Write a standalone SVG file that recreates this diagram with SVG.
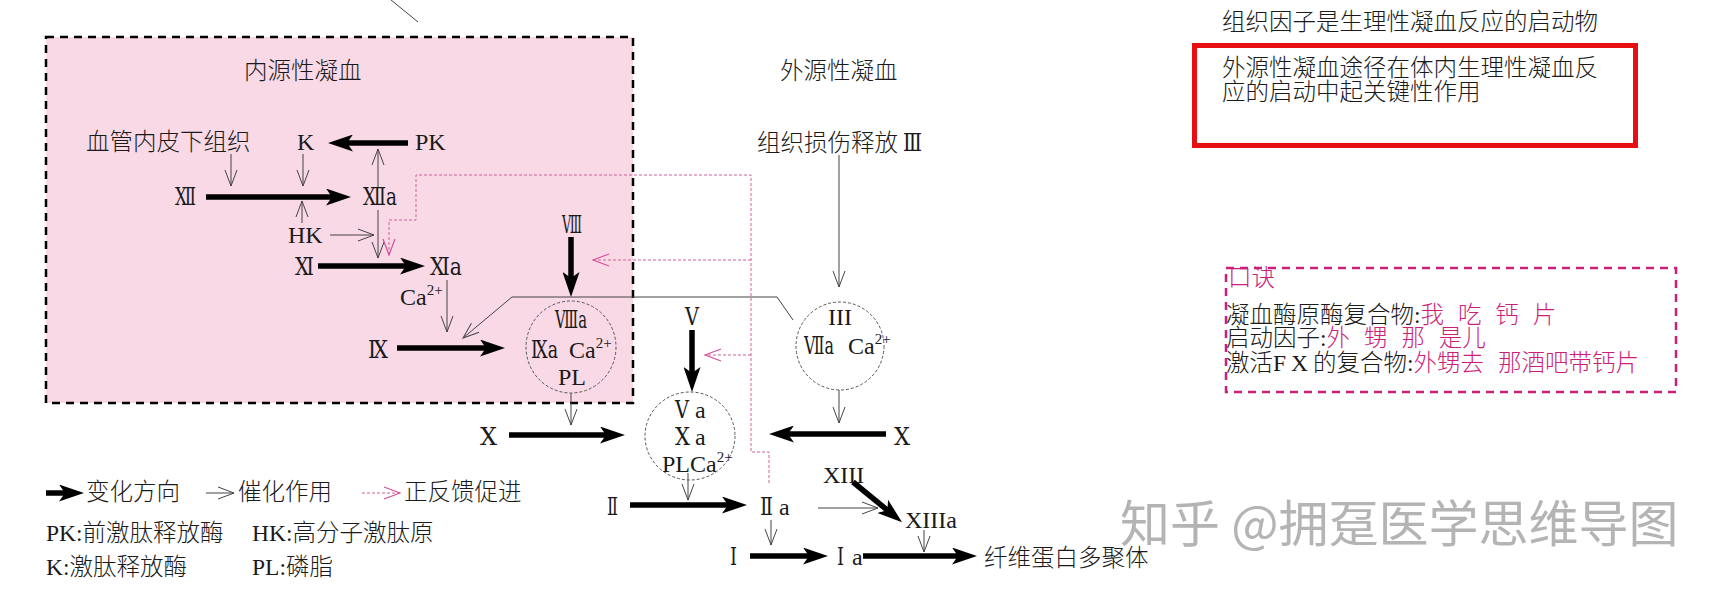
<svg xmlns="http://www.w3.org/2000/svg" width="1734" height="593" viewBox="0 0 1734 593">
<style>
.t{font-family:"Liberation Serif","DejaVu Serif","Noto Sans CJK SC",serif;font-size:24px;fill:#1a1a1a}
.r{font-family:"DejaVu Serif","Liberation Serif",serif;font-size:24px;fill:#1a1a1a}
.c{font-family:"Liberation Serif","Noto Sans CJK SC",sans-serif;font-size:23.5px;fill:#1a1a1a;font-weight:300}
.m{fill:#cc1f7a}
.sup{font-size:15px}
.thick{stroke:#000;stroke-width:5.5;fill:none;marker-end:url(#ah)}
.thin{stroke:#444;stroke-width:1;fill:none;marker-end:url(#av)}
.pink{stroke:#d0609a;stroke-width:1;stroke-dasharray:3 2;fill:none}
.pa{marker-end:url(#ap)}
.cir{fill:none;stroke:#555;stroke-width:1;stroke-dasharray:3 2}
</style>
<defs>
<marker id="ah" markerUnits="userSpaceOnUse" viewBox="0 0 25 17" refX="12" refY="8.5" markerWidth="25" markerHeight="17" orient="auto"><path d="M0,0 L25,8.5 L0,17 L6,8.5 Z" fill="#000"/></marker>
<marker id="av" markerUnits="userSpaceOnUse" viewBox="-1 -1 18 14" refX="16" refY="6" markerWidth="18" markerHeight="14" orient="auto"><path d="M0,0 L16,6 L0,12" fill="none" stroke="#444" stroke-width="1"/></marker>
<marker id="ap" markerUnits="userSpaceOnUse" viewBox="-1 -1 18 14" refX="16" refY="6" markerWidth="18" markerHeight="14" orient="auto"><path d="M0,0 L16,6 L0,12" fill="none" stroke="#d0509a" stroke-width="1.2"/></marker>
</defs>
<rect width="1734" height="593" fill="#fff"/>
<line x1="391" y1="0" x2="418" y2="22" stroke="#444" stroke-width="1"/>
<g id="intrinsic-box">
<rect x="46" y="37" width="587" height="366" fill="#f8d9e5" stroke="#000" stroke-width="2.5" stroke-dasharray="8 6"/>
<text class="c" x="244" y="79">内源性凝血</text>
</g>
<g id="extrinsic-label"><text class="c" x="780" y="79">外源性凝血</text></g>
<g id="connectors">
<line class="thick" x1="408" y1="143" x2="341" y2="143"/>
<line class="thick" x1="206" y1="197" x2="338" y2="197"/>
<line class="thick" x1="318" y1="266" x2="412" y2="266"/>
<line class="thick" x1="571" y1="237" x2="571" y2="284"/>
<line class="thick" x1="397" y1="348" x2="492" y2="348"/>
<line class="thick" x1="509" y1="435" x2="612" y2="435"/>
<line class="thick" x1="692" y1="330" x2="692" y2="379"/>
<line class="thick" x1="886" y1="434" x2="782" y2="434"/>
<line class="thick" x1="630" y1="505" x2="734" y2="505"/>
<line class="thick" x1="853" y1="482" x2="892" y2="514"/>
<line class="thick" x1="750" y1="556" x2="815" y2="556"/>
<line class="thick" x1="863" y1="556" x2="964" y2="556"/>
<line class="thin" x1="231" y1="154" x2="231" y2="186"/>
<line class="thin" x1="303" y1="154" x2="303" y2="186"/>
<line class="thin" x1="378" y1="187" x2="378" y2="149"/>
<line class="thin" x1="302" y1="223" x2="302" y2="201"/>
<line class="thin" x1="330" y1="235" x2="374" y2="235"/>
<line class="thin" x1="378" y1="210" x2="378" y2="258"/>
<line class="thin" x1="447" y1="280" x2="447" y2="332"/>
<polyline class="thin" points="793,320 777,297 512,297 463,338"/>
<line class="thin" x1="571" y1="393" x2="571" y2="425"/>
<line class="thin" x1="839" y1="155" x2="839" y2="287"/>
<line class="thin" x1="839" y1="390" x2="839" y2="423"/>
<line class="thin" x1="688" y1="473" x2="688" y2="500"/>
<line class="thin" x1="818" y1="508" x2="878" y2="508"/>
<line class="thin" x1="771" y1="520" x2="771" y2="545"/>
<line class="thin" x1="924" y1="530" x2="924" y2="552"/>
<polyline class="pink pa" points="769,483 769,452 751,452 751,175 416,175 416,220 389,220 389,255"/>
<line class="pink pa" x1="751" y1="260" x2="593" y2="260"/>
<line class="pink pa" x1="751" y1="355" x2="705" y2="355"/>
</g>
<g id="n-xueguan"><text class="c" x="86" y="150">血管内皮下组织</text></g>
<g id="n-K"><text class="t" x="297" y="150">K</text></g>
<g id="n-PK"><text class="t" x="415" y="150">PK</text></g>
<g id="n-XII"><text class="r" x="175" y="205" textLength="21" lengthAdjust="spacingAndGlyphs">Ⅻ</text></g>
<g id="n-XIIa"><text class="r" x="363" y="205" textLength="34" lengthAdjust="spacingAndGlyphs">Ⅻa</text></g>
<g id="n-HK"><text class="t" x="288" y="243">HK</text></g>
<g id="n-XI"><text class="r" x="295" y="275" textLength="19" lengthAdjust="spacingAndGlyphs">Ⅺ</text></g>
<g id="n-XIa"><text class="r" x="430" y="275" textLength="32" lengthAdjust="spacingAndGlyphs">Ⅺa</text></g>
<g id="n-Ca"><text class="t" x="400" y="305">Ca<tspan class="sup" dy="-10">2+</tspan></text></g>
<g id="n-VIII"><text class="r" x="562" y="233" textLength="20" lengthAdjust="spacingAndGlyphs">Ⅷ</text></g>
<g id="n-IX"><text class="r" x="368" y="358" textLength="20" lengthAdjust="spacingAndGlyphs">Ⅸ</text></g>
<g id="n-c1">
<ellipse class="cir" cx="571" cy="347" rx="45" ry="46"/>
<text class="r" x="555" y="328" textLength="32" lengthAdjust="spacingAndGlyphs">Ⅷa</text>
<text class="r" x="531" y="358" textLength="27" lengthAdjust="spacingAndGlyphs">Ⅸa</text>
<text class="t" x="569" y="358">Ca<tspan class="sup" dy="-10">2+</tspan></text>
<text class="t" x="558" y="385">PL</text>
</g>
<g id="n-injury"><text class="c" x="757" y="151">组织损伤释放</text><text class="r" x="903" y="151" textLength="19" lengthAdjust="spacingAndGlyphs">Ⅲ</text></g>
<g id="n-c2">
<ellipse class="cir" cx="840" cy="346" rx="44" ry="44"/>
<text class="t" x="828" y="325">III</text>
<text class="r" x="804" y="354" textLength="30" lengthAdjust="spacingAndGlyphs">Ⅶa</text>
<text class="t" x="848" y="354">Ca<tspan class="sup" dy="-10">2+</tspan></text>
</g>
<g id="n-X-left"><text class="r" x="480" y="445" textLength="17" lengthAdjust="spacingAndGlyphs">Ⅹ</text></g>
<g id="n-V"><text class="r" x="685" y="325" textLength="14" lengthAdjust="spacingAndGlyphs">Ⅴ</text></g>
<g id="n-c3">
<ellipse class="cir" cx="690" cy="436" rx="45" ry="44"/>
<text class="r" x="675" y="418" textLength="14" lengthAdjust="spacingAndGlyphs">Ⅴ</text><text class="t" x="695" y="418">a</text>
<text class="r" x="675" y="445" textLength="15" lengthAdjust="spacingAndGlyphs">Ⅹ</text><text class="t" x="695" y="445">a</text>
<text class="t" x="662" y="472">PLCa<tspan class="sup" dy="-10">2+</tspan></text>
</g>
<g id="n-X-right"><text class="r" x="894" y="445" textLength="16" lengthAdjust="spacingAndGlyphs">Ⅹ</text></g>
<g id="n-II"><text class="r" x="607" y="515" textLength="11" lengthAdjust="spacingAndGlyphs">Ⅱ</text></g>
<g id="n-IIa"><text class="r" x="760" y="515" textLength="13" lengthAdjust="spacingAndGlyphs">Ⅱ</text><text class="t" x="779" y="515">a</text></g>
<g id="n-XIII"><text class="t" x="823" y="483">XIII</text></g>
<g id="n-XIIIa"><text class="t" x="905" y="528">XIIIa</text></g>
<g id="n-I"><text class="r" x="730" y="565" textLength="7" lengthAdjust="spacingAndGlyphs">Ⅰ</text></g>
<g id="n-Ia"><text class="r" x="837" y="565" textLength="7" lengthAdjust="spacingAndGlyphs">Ⅰ</text><text class="t" x="852" y="565">a</text></g>
<g id="n-fibrin"><text class="c" x="984" y="566">纤维蛋白多聚体</text></g>
<g id="legend">
<line class="thick" x1="46" y1="493" x2="71" y2="493"/>
<text class="c" x="86" y="500">变化方向</text>
<line class="thin" x1="206" y1="493" x2="234" y2="493"/>
<text class="c" x="238" y="500">催化作用</text>
<line class="pink pa" x1="362" y1="493" x2="400" y2="493"/>
<text class="c" x="404" y="500">正反馈促进</text>
<text class="c" x="46" y="541">PK:前激肽释放酶</text>
<text class="c" x="252" y="541">HK:高分子激肽原</text>
<text class="c" x="46" y="575">K:激肽释放酶</text>
<text class="c" x="252" y="575">PL:磷脂</text>
</g>
<g id="note-top"><text class="c" x="1222" y="30">组织因子是生理性凝血反应的启动物</text></g>
<g id="note-red">
<rect x="1194.5" y="45.5" width="441" height="100" fill="none" stroke="#e60f12" stroke-width="5"/>
<text class="c" x="1222" y="76">外源性凝血途径在体内生理性凝血反</text>
<text class="c" x="1222" y="100">应的启动中起关键性作用</text>
</g>
<g id="note-mnemonic">
<rect x="1226" y="268" width="450" height="124" fill="none" stroke="#cc1f7a" stroke-width="2.5" stroke-dasharray="8 6"/>
<text class="c m" x="1228" y="286">口诀</text>
<text class="c" x="1226" y="323" style="white-space:pre" word-spacing="8">凝血酶原酶复合物:<tspan class="m">我 吃 钙 片</tspan></text>
<text class="c" x="1226" y="346" style="white-space:pre" word-spacing="8">启动因子:<tspan class="m">外 甥 那 是儿</tspan></text>
<text class="c" x="1226" y="371" style="white-space:pre" word-spacing="8">激活<tspan letter-spacing="5">FX</tspan>的复合物:<tspan class="m">外甥去 那酒吧带钙片</tspan></text>
</g>
<g id="watermark"><text x="1120" y="542" font-family="'Noto Sans CJK SC',sans-serif" font-size="50" fill="#b4b4b4">知乎 @拥趸医学思维导图</text></g>
</svg>
